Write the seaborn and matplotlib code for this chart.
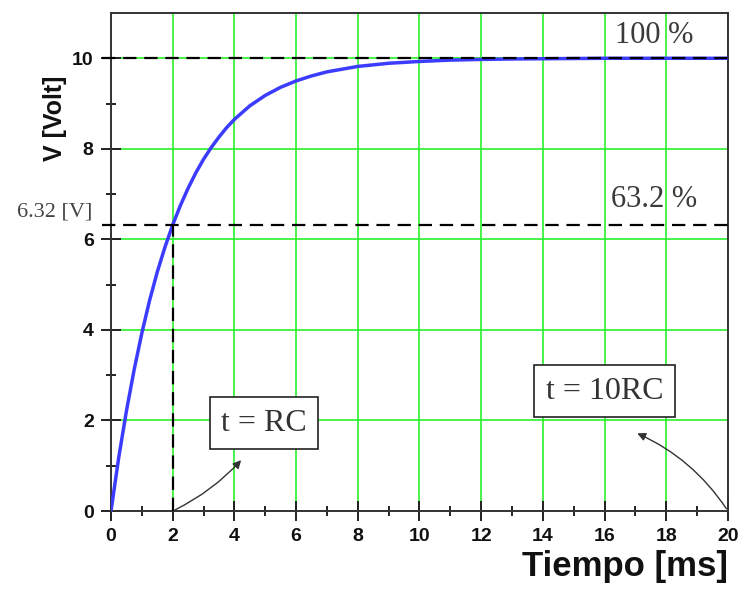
import numpy as np
import pandas as pd
import matplotlib
matplotlib.use('Agg')
import matplotlib.pyplot as plt
import seaborn as sns

# values
tiempo = [0, 0.25, 0.5, 0.75, 1, 1.25, 1.5, 1.75, 2, 2.25, 2.5, 2.75, 3, 3.25, 3.5, 3.75, 4,
          4.5, 5, 5.5, 6, 6.5, 7, 7.5, 8, 9, 10, 11, 12, 13, 14, 16, 18, 20]
voltaje = [0, 1.18, 2.21, 3.12, 3.93, 4.65, 5.28, 5.83, 6.32, 6.75, 7.13, 7.47, 7.77, 8.03, 8.26, 8.47, 8.65,
           8.95, 9.18, 9.36, 9.50, 9.61, 9.70, 9.76, 9.82, 9.89, 9.93, 9.96, 9.975, 9.985, 9.99, 10.0, 10.0, 10.0]
x_ticks = [0, 2, 4, 6, 8, 10, 12, 14, 16, 18, 20]
y_ticks = [0, 2, 4, 6, 8, 10]
v_rc = 6.32
v_max = 10
t_rc = 2

df = pd.DataFrame({'Tiempo': tiempo, 'V': voltaje})

sns.set_style('white')
plt.rcParams['font.family'] = ['Liberation Sans', 'DejaVu Sans']
fig = plt.figure(figsize=(7.42, 5.89), dpi=100)
ax = fig.add_axes([0.1496, 0.1324, 0.8314, 0.8455])

sns.lineplot(x='Tiempo', y='V', data=df, ax=ax, color='#3c3cff', lw=2.5, zorder=4)

ax.set_xlim(0, 20)
ax.set_ylim(0, 11)
ax.set_xticks(x_ticks)
ax.set_yticks(y_ticks)
ax.set_xticks(np.arange(1, 20, 2), minor=True)
ax.set_yticks(np.arange(1, 11, 2), minor=True)
ax.grid(True, which='major', color='#2af02a', lw=1.2)
ax.tick_params(which='both', bottom=True, left=True)
ax.tick_params(which='major', direction='inout', length=15, width=1.4, color='#222222',
               labelsize=14, pad=5)
ax.tick_params(which='minor', direction='inout', length=7, width=1.4, color='#222222')
for lab in ax.get_xticklabels() + ax.get_yticklabels():
    lab.set_fontweight('bold')
    lab.set_color('#111111')
for s in ax.spines.values():
    s.set_color('#333333')
    s.set_linewidth(1.4)

# reference dashed lines
ax.plot([-0.3, 20], [v_max, v_max], color='black', ls=(0, (6, 3.5)), lw=1.6, clip_on=False, zorder=5)
ax.plot([-0.3, 20], [v_rc, v_rc], color='black', ls=(0, (6, 3.5)), lw=1.6, clip_on=False, zorder=5)
ax.plot([t_rc, t_rc], [0, v_rc], color='black', ls=(0, (6, 3.5)), lw=1.6, zorder=5)

serif = ['Liberation Serif', 'DejaVu Serif']
ax.text(17.6, 10.51, '100 %', family=serif, fontsize=22, color='#3a3a3a', ha='center', va='center')
ax.text(17.6, 6.87, '63.2 %', family=serif, fontsize=22, color='#3a3a3a', ha='center', va='center')
ax.text(-1.82, 6.6, '6.32 [V]', family=serif, fontsize=16, color='#444444', ha='center', va='center', clip_on=False)

box = dict(boxstyle='square,pad=0.36', fc='white', ec='#222222', lw=1.2)
ax.text(4.96, 1.94, 't = RC', family=serif, fontsize=23, color='#333333', ha='center', va='center', bbox=box, zorder=6)
ax.text(16.0, 2.65, 't = 10RC', family=serif, fontsize=23, color='#333333', ha='center', va='center', bbox=box, zorder=6)

ax.annotate('', xy=(4.28, 1.17), xytext=(2, 0),
            arrowprops=dict(arrowstyle='-|>', color='#333333', lw=1, mutation_scale=12,
                            connectionstyle='arc3,rad=0.1'), zorder=6)
ax.annotate('', xy=(16.98, 1.74), xytext=(20, 0),
            arrowprops=dict(arrowstyle='-|>', color='#333333', lw=1, mutation_scale=12,
                            connectionstyle='arc3,rad=0.15'), zorder=6)

ax.set_xlabel('Tiempo [ms]', fontsize=25, fontweight='bold', loc='right', labelpad=3, color='#111111')
ax.set_ylabel('V [Volt]', fontsize=18, fontweight='bold', color='#111111')
ax.yaxis.set_label_coords(-0.071, 0.789)

fig.savefig('out.png', dpi=100)
